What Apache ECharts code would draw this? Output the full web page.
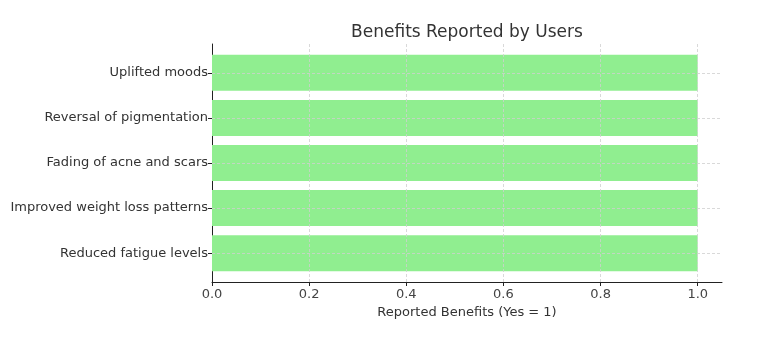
<!DOCTYPE html>
<html>
<head>
<meta charset="utf-8">
<script src="https://cdn.jsdelivr.net/npm/echarts@6/dist/echarts.min.js"></script>
<style>
  html, body { margin: 0; padding: 0; background: #fff; }
  #chart { width: 779px; height: 354px; }
</style>
</head>
<body>
<div id="chart"></div>
<script>
// top to bottom, as shown
const categories = [
    "Uplifted moods",
    "Reversal of pigmentation",
    "Fading of acne and scars",
    "Improved weight loss patterns",
    "Reduced fatigue levels"
]
const benefitValues = [1, 1, 1, 1, 1]
const xTicks = [0.2, 0.4, 0.6, 0.8, 1.0]

const gridLine = { color: "#cfcfcf", type: [3, 2], width: 0.8 }
const font = "DejaVu Sans"

const chart = echarts.init(document.getElementById("chart"))

// outer grid = axes frame, inner grid = bars (matplotlib leaves a margin above/below the bars)
const outer = { left: 212, right: 57, top: 44, bottom: 72 }
const pad = 6.3
const inner = { left: 212, right: 57, top: outer.top + pad, bottom: outer.bottom + pad }

const options = {
    backgroundColor: "#fff",
    animation: false,
    title: {
        text: "Benefits Reported by Users",
        left: 462,
        textAlign: "center",
        top: 19,
        textStyle: { fontFamily: font, fontSize: 17, fontWeight: "normal", color: "#333" },
    },
    grid: [
        Object.assign({ containLabel: false }, outer),
        Object.assign({ containLabel: false }, inner),
    ],
    xAxis: [
        {
            gridIndex: 0,
            type: "value",
            min: 0,
            max: 1.05,
            interval: 0.2,
            name: "Reported Benefits (Yes = 1)",
            nameLocation: "middle",
            nameGap: 23,
            nameTextStyle: { fontFamily: font, fontSize: 13, color: "#333" },
            axisLine: { show: true, lineStyle: { color: "#222", width: 1 } },
            axisTick: { show: true, length: 4, lineStyle: { color: "#222" } },
            axisLabel: {
                showMaxLabel: false,
                margin: 6,
                fontFamily: font,
                fontSize: 13,
                color: "#444",
                formatter: v => v.toFixed(1),
            },
            splitLine: { show: false },
        },
        {
            gridIndex: 1,
            type: "value",
            min: 0,
            max: 1.05,
            show: false,
        },
    ],
    yAxis: [
        {
            gridIndex: 0,
            type: "value",
            min: 0,
            max: 1,
            axisLine: { show: true, lineStyle: { color: "#222", width: 1 } },
            axisTick: { show: false },
            axisLabel: { show: false },
            splitLine: { show: false },
        },
        {
            gridIndex: 1,
            type: "category",
            data: categories,
            inverse: true,
            axisLine: { show: false },
            axisTick: { show: true, alignWithLabel: true, length: 4, lineStyle: { color: "#222" } },
            axisLabel: { margin: 4, fontFamily: font, fontSize: 13, color: "#333" },
            splitLine: { show: false },
        },
    ],
    series: [
        {
            type: "bar",
            xAxisIndex: 1,
            yAxisIndex: 1,
            data: benefitValues,
            barCategoryGap: "20%",
            itemStyle: { color: "#90ee90" },
            markLine: {
                silent: true,
                symbol: "none",
                label: { show: false },
                lineStyle: gridLine,
                data: categories.map(c => ({ yAxis: c })),
            },
        },
        {
            // vertical grid lines over the full frame height
            type: "scatter",
            xAxisIndex: 0,
            yAxisIndex: 0,
            data: [],
            z: 5,
            markLine: {
                silent: true,
                symbol: "none",
                label: { show: false },
                lineStyle: gridLine,
                data: xTicks.map(v => ({ xAxis: v })),
            },
        },
    ],
}

chart.setOption(options)
</script>
</body>
</html>
